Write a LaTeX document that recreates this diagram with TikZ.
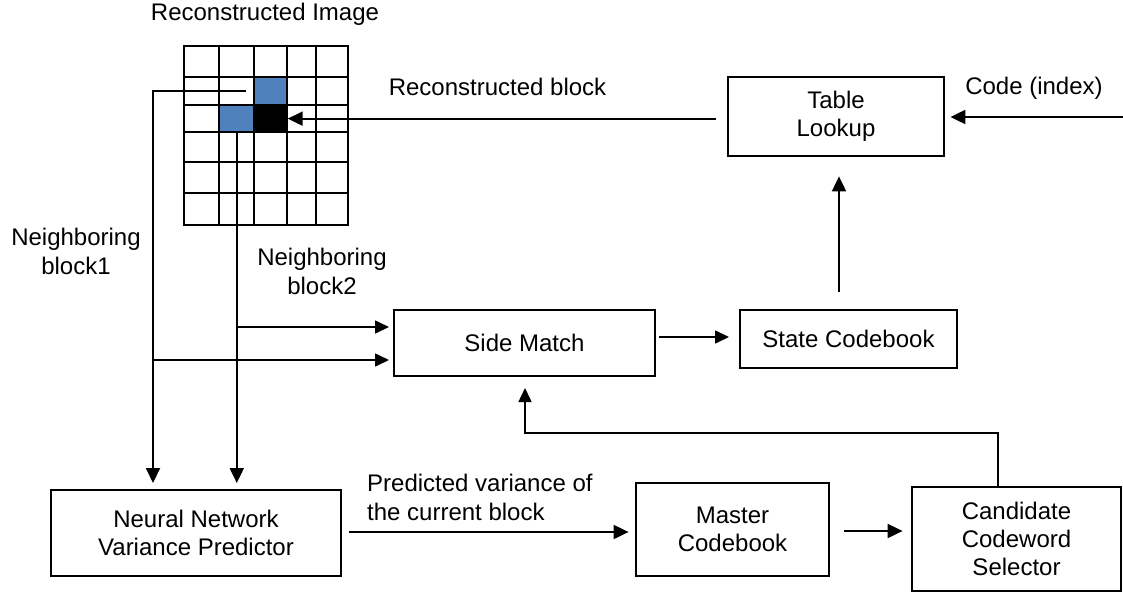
\documentclass[tikz,border=0pt]{standalone}
\usepackage{fontspec}
\setmainfont{Liberation Sans}
\usetikzlibrary{arrows.meta,calc}
\definecolor{cellblue}{HTML}{4F81BD}
\begin{document}
\begin{tikzpicture}[x=1pt,y=-1pt,
  box/.style={draw, line width=2pt, inner sep=0pt, align=center, font=\fontsize{24}{28}\selectfont},
  thickbox/.style={box, line width=2.8pt},
  lbl/.style={inner sep=0pt, align=center, font=\fontsize{24}{29}\selectfont},
  arr/.style={line width=2pt, -{Triangle[length=15pt,width=14pt]}},
  thinarr/.style={line width=1.6pt, -{Triangle[length=14pt,width=13pt]}},
  cell/.style={draw, line width=2pt, inner sep=0pt, minimum width=#1},
  gridline/.style={line width=2pt}]
\useasboundingbox (0,0) rectangle (1123,592);

% image grid
\node[cell=32.4pt, fill=cellblue, minimum height=28.3pt] (nb1cell) at (270.5,90.85) {};
\node[cell=35pt, fill=cellblue, minimum height=27.3pt] (nb2cell) at (236.8,118.65) {};
\node[cell=32.4pt, fill=black, minimum height=27.3pt] (cur) at (270.5,118.65) {};
\foreach \x in {184,219.3,254.3,286.7,315.7,348.3} \draw[gridline] (\x,46) -- (\x,225);
\foreach \y in {46,76.7,105,132.3,161.7,193.3,225} \draw[gridline] (183,\y) -- (349.3,\y);

% boxes
\node[thickbox, minimum width=216pt, minimum height=79pt] (table) at (836,116.5) {Table\\Lookup};
\node[box, minimum width=261pt, minimum height=66pt] (side) at (524.5,343) {Side Match};
\node[box, minimum width=217pt, minimum height=58pt] (state) at (848.5,339) {State Codebook};
\node[box, minimum width=290pt, minimum height=86pt] (nn) at (196,533) {Neural Network\\Variance Predictor};
\node[thickbox, minimum width=193pt, minimum height=93pt] (master) at (732.5,529.5) {Master\\Codebook};
\node[thickbox, minimum width=209pt, minimum height=104pt] (cand) at (1016.5,539) {Candidate\\Codeword\\Selector};

% labels
\node[lbl] (title) at (265,14) {Reconstructed Image};
\node[lbl] (rblbl) at (497.5,87) {Reconstructed block};
\node[lbl] (codelbl) at (1034,88) {Code (index)};
\node[lbl] (n1lbl) at (76,251) {Neighboring\\block1};
\node[lbl] (n2lbl) at (322,271.5) {Neighboring\\block2};
\node[lbl, align=left, anchor=west] (predlbl) at (367,497.5) {Predicted variance of\\the current block};

% coordinates
\coordinate (codein) at (1123,117);
\coordinate (n1top) at (153,483);
\coordinate (n2top) at (236.8,483);
\coordinate (b2) at (236.8,327);
\coordinate (b1) at (153,360);
\coordinate (ssy) at (0,337);
\coordinate (upx) at (839,0);
\coordinate (nmy) at (0,532);
\coordinate (mcy) at (0,531);
\coordinate (fbR) at (998,433);
\coordinate (fbL) at (525,433);

% connectors
\draw[arr, shorten >=5pt] (codein) -- (codein -| table.east);
\draw[arr, shorten <=11pt] (table.west |- cur.east) -- (cur.east);
\draw[arr, shorten <=7pt] (nb1cell.west) -| (n1top);
\draw[arr] (nb2cell.south) -- (n2top);
\draw[thinarr, shorten >=4pt] (b2) -- (b2 -| side.west);
\draw[thinarr, shorten >=4pt] (b1) -- (b1 -| side.west);
\draw[thinarr, shorten <=3pt, shorten >=10pt] (side.east |- ssy) -- (state.west |- ssy);
\draw[arr, shorten <=17pt, shorten >=19pt] (state.north -| upx) -- (table.south -| upx);
\draw[arr, shorten <=7pt, shorten >=6pt] (nn.east |- nmy) -- (master.west |- nmy);
\draw[arr, shorten <=14pt, shorten >=8pt] (master.east |- mcy) -- (cand.west |- mcy);
\draw[thinarr, shorten >=11pt] (cand.north -| fbR) -- (fbR) -- (fbL) -- (side.south -| fbL);
\end{tikzpicture}
\end{document}
